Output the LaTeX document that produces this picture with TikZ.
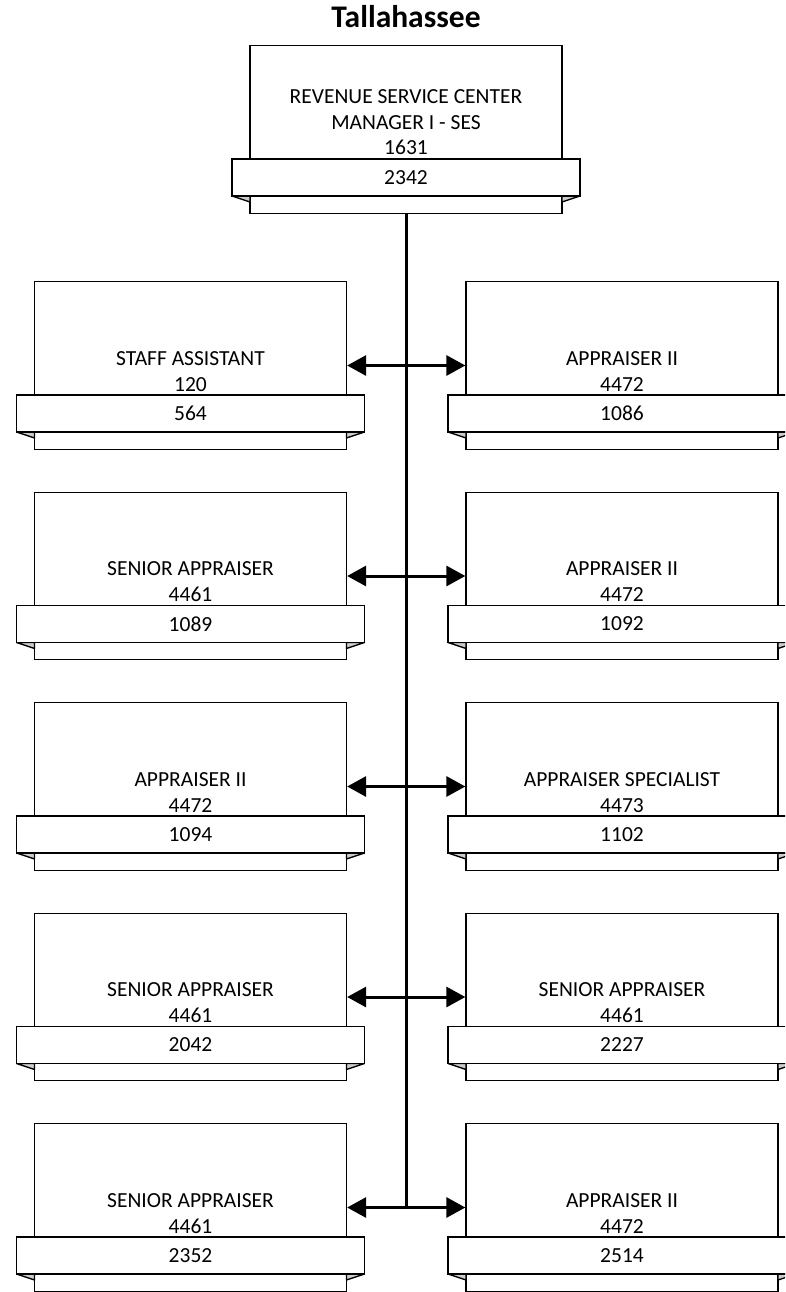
\documentclass[tikz,border=0pt]{standalone}
\usepackage{fontspec}
\setmainfont{Carlito}
\usetikzlibrary{arrows.meta}
\usetikzlibrary{positioning}

\tikzset{
  jobframe/.style={draw, fill=white, line width=1.3pt, minimum width=312pt,
    minimum height=167.5pt, inner sep=0pt},
  ribbon/.style={draw, fill=white, line width=1.3pt, minimum width=348pt,
    minimum height=37pt, inner sep=0pt, font=\fontsize{21.5}{25.8}\selectfont},
  fold/.style={draw, fill=black!20, line width=1.3pt, line join=round},
  jobtext/.style={align=center, inner sep=0pt, font=\fontsize{21.5}{25.8}\selectfont},
  link/.style={line width=3pt,
    {Triangle[length=19pt,width=20pt]}-{Triangle[length=19pt,width=20pt]}},
  trunk/.style={line width=3pt}
}

% box with position ribbon: name, x, y, title, number
\newcommand{\jobbox}[5]{%
  \node[jobframe] (#1) at (#2,#3) {};
  \path[fold] ({#2-174},{#3+66.5}) -- ({#2-156},{#3+66.5}) -- ({#2-156},{#3+72.5}) -- cycle;
  \path[fold] ({#2+174},{#3+66.5}) -- ({#2+156},{#3+66.5}) -- ({#2+156},{#3+72.5}) -- cycle;
  \node[ribbon] (#1-num) at (#2,{#3+48}) {#5};
  \node[jobtext, above=3pt of #1-num] (#1-txt) {#4};
}

\begin{document}
\begin{tikzpicture}[x=1pt, y=-1pt]
    \useasboundingbox (0,0) rectangle (785,1292);
    \clip (0,0) rectangle (785,1292);

    \node[font=\bfseries\fontsize{31.5}{37}\selectfont, anchor=base] (title) at (406,28) {Tallahassee};

    \jobbox{mgr}{406}{129.5}{REVENUE SERVICE CENTER\\MANAGER I - SES\\1631}{2342}

    \jobbox{staff}{190.5}{365.5}{STAFF ASSISTANT\\120}{564}
    \jobbox{appA}{622}{365.5}{APPRAISER II\\4472}{1086}
    \jobbox{senA}{190.5}{576}{SENIOR APPRAISER\\4461}{1089}
    \jobbox{appB}{622}{576}{APPRAISER II\\4472}{1092}
    \jobbox{appC}{190.5}{786.5}{APPRAISER II\\4472}{1094}
    \jobbox{spec}{622}{786.5}{APPRAISER SPECIALIST\\4473}{1102}
    \jobbox{senB}{190.5}{997}{SENIOR APPRAISER\\4461}{2042}
    \jobbox{senC}{622}{997}{SENIOR APPRAISER\\4461}{2227}
    \jobbox{senD}{190.5}{1207.5}{SENIOR APPRAISER\\4461}{2352}
    \jobbox{appD}{622}{1207.5}{APPRAISER II\\4472}{2514}

    \draw[trunk] (mgr.south) -- (mgr.south |- senD.east);

    \draw[link] (staff.east) -- (appA.west);
    \draw[link] (senA.east) -- (appB.west);
    \draw[link] (appC.east) -- (spec.west);
    \draw[link] (senB.east) -- (senC.west);
    \draw[link] (senD.east) -- (appD.west);
\end{tikzpicture}
\end{document}
